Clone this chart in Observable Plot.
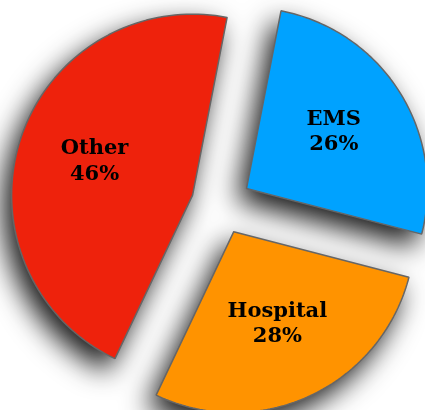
<!DOCTYPE html>
<html><head><meta charset="utf-8">
<script src="https://cdn.jsdelivr.net/npm/d3@7"></script>
<script src="https://cdn.jsdelivr.net/npm/@observablehq/plot@0.6"></script>
<style>html,body{margin:0;padding:0;background:#fff}</style>
</head><body><div id="chart"></div>
<script>
const categories = ["EMS", "Hospital", "Other"];
const shares = [26, 28, 46];
const colors = ["#00A2FF", "#FF9300", "#EE220C"];
const startDeg = 11;

const W = 425, H = 410;
const cxPx = 220.6, cyPx = 204, Rpx = 181;
const explode = 30 / Rpx;
const labelR = 0.57;

const pie = d3.pie().sort(null)
  .startAngle(startDeg * Math.PI / 180)
  .endAngle(startDeg * Math.PI / 180 + 2 * Math.PI);
const arcs = pie(shares);

const slices = [];
const labels = [];
arcs.forEach((a, i) => {
  const mid = (a.startAngle + a.endAngle) / 2;
  const ox = explode * Math.sin(mid), oy = explode * Math.cos(mid);
  const ring = [{x: ox, y: oy}];
  const n = 90;
  for (let k = 0; k <= n; k++) {
    const t = a.startAngle + (a.endAngle - a.startAngle) * k / n;
    ring.push({x: ox + Math.sin(t), y: oy + Math.cos(t)});
  }
  ring.push({x: ox, y: oy});
  slices.push({cat: categories[i], color: colors[i], ring});
  labels.push({x: ox + labelR * Math.sin(mid), y: oy + labelR * Math.cos(mid), text: categories[i] + "\n" + shares[i] + "%"});
});

const plot = Plot.plot({
  width: W, height: H, margin: 0,
  x: {domain: [-cxPx / Rpx, (W - cxPx) / Rpx], axis: null},
  y: {domain: [-(H - cyPx) / Rpx, cyPx / Rpx], axis: null},
  marks: [
    ...slices.map(s => Plot.line(s.ring, {x: "x", y: "y", fill: s.color, stroke: "#666", strokeWidth: 1.5, strokeLinejoin: "miter", curve: "linear"})),
    Plot.text(labels, {x: "x", y: "y", dy: -4, text: "text", fontFamily: "DejaVu Serif", fontWeight: "bold", fontSize: 21, lineHeight: 1.2, fill: "#000"})
  ]
});
const svg = plot;
const lineGroups = svg.querySelectorAll('g[aria-label="line"]');
const wrap = document.createElementNS("http://www.w3.org/2000/svg", "g");
wrap.setAttribute("style", "filter: drop-shadow(-8px 12px 14px rgba(0,0,0,0.9))");
lineGroups[0].parentNode.insertBefore(wrap, lineGroups[0]);
lineGroups.forEach(g => wrap.appendChild(g));
document.getElementById("chart").appendChild(plot);
</script>
</body></html>
